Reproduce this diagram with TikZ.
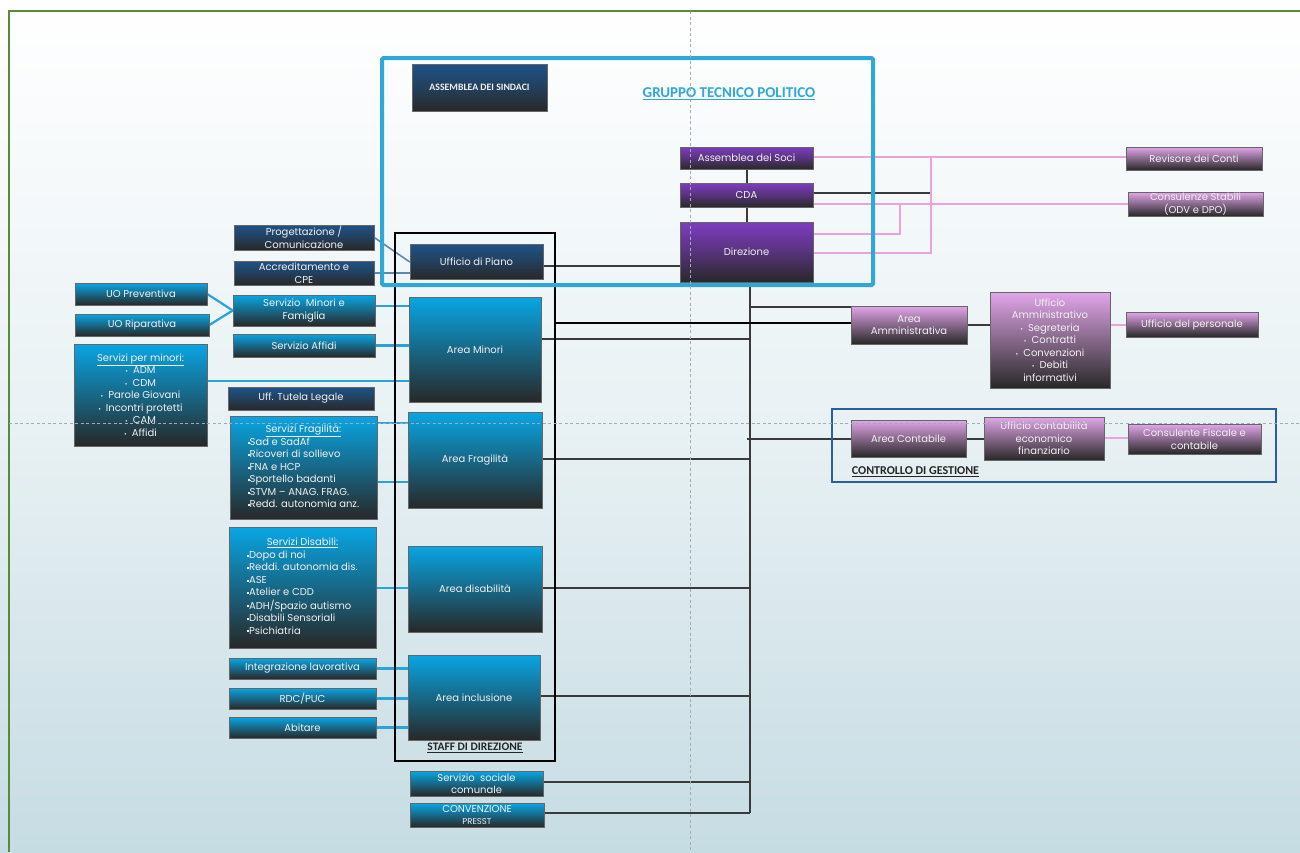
\documentclass[tikz,border=0pt]{standalone}
\usepackage{fontspec}
\setmainfont{Poppins}
\newfontfamily\titlefont{Carlito}
\usetikzlibrary{shadows}
\pgfdeclarelayer{back}
\pgfdeclarelayer{links}
\pgfsetlayers{back,links,main}
\definecolor{gframe}{HTML}{5A8A35}
\definecolor{bgbot}{HTML}{C6DCE3}
\definecolor{navytop}{HTML}{1F5287}
\definecolor{darkbot}{HTML}{282828}
\definecolor{cyantop}{HTML}{08A6E4}
\definecolor{purtop}{HTML}{7E3CC0}
\definecolor{pinktop}{HTML}{E2A6EA}
\definecolor{gtpblue}{HTML}{2FA8D8}
\definecolor{linkblue}{HTML}{27A4DA}
\definecolor{steel}{HTML}{5E88B0}
\definecolor{pinkline}{HTML}{E9A3DB}
\definecolor{cgblue}{HTML}{2C5E9C}
\definecolor{guide}{HTML}{A3ABB3}
\definecolor{conn}{HTML}{3A3A3A}
\newcommand{\sqb}{\raisebox{0.35ex}{\rule{1.8pt}{1.8pt}}}
\newcommand{\ubul}{{\fontsize{6.5}{6.5}\selectfont\textbullet}\hspace{5pt}}
\tikzset{
  box/.style={draw=black!60, line width=0.5pt, text=white!94!black, align=center, inner sep=1pt,
    font=\fontsize{10}{12.5}\selectfont,
    drop shadow={shadow xshift=1.4pt, shadow yshift=-1.4pt, opacity=0.35, fill=black}},
  navybox/.style={box, top color=navytop, bottom color=darkbot, middle color=navytop!55!darkbot},
  cyanbox/.style={box, top color=cyantop, bottom color=darkbot, middle color=cyantop!50!darkbot},
  purbox/.style={box, top color=purtop, bottom color=darkbot, middle color=purtop!55!darkbot},
  pinkbox/.style={box, top color=pinktop, bottom color=darkbot, middle color=pinktop!50!darkbot},
  blk/.style={draw=conn, line width=2pt},
  pnk/.style={draw=pinkline, line width=2pt},
  blu/.style={draw=linkblue, line width=2.2pt},
  stl/.style={draw=steel, line width=1.6pt},
  ttl/.style={font=\titlefont\bfseries, inner sep=0pt},
  guideline/.style={draw=guide, line width=0.8pt, dash pattern=on 3pt off 2.5pt}
}
\begin{document}
\begin{tikzpicture}[x=1pt,y=-1pt]
\path[use as bounding box] (0,0) rectangle (1300,852);
\begin{pgfonlayer}{back}
\fill[top color=white, bottom color=bgbot, middle color=white!60!bgbot] (0,0) rectangle (1300,852);
\draw[gframe, line width=2pt] (9,852) -- (9,11) -- (1300,11);
\end{pgfonlayer}

% top group
\node[navybox, minimum width=135pt, minimum height=47pt, font=\titlefont\bfseries\fontsize{9.8}{11}\selectfont] (sindaci) at (479.5,87.5) {ASSEMBLEA DEI SINDACI};
\node[purbox, minimum width=133pt, minimum height=22pt] (soci) at (746.5,158) {Assemblea dei Soci};
\node[purbox, minimum width=133pt, minimum height=24pt] (cda) at (746.5,195) {CDA};
\node[purbox, minimum width=133pt, minimum height=60pt] (direz) at (746.5,252) {Direzione};
\node[pinkbox, minimum width=136pt, minimum height=23pt] (revisore) at (1194,158.5) {Revisore dei Conti};
\node[pinkbox, minimum width=135pt, minimum height=24pt] (consul) at (1195.5,204) {Consulenze Stabili\\(ODV e DPO)};

% left side
\node[navybox, minimum width=133pt, minimum height=35pt] (uffpiano) at (476.5,261.5) {Ufficio di Piano};
\node[navybox, minimum width=140pt, minimum height=25pt] (progett) at (304,237.5) {Progettazione /\\Comunicazione};
\node[navybox, minimum width=140pt, minimum height=24pt] (accred) at (304,273) {Accreditamento e\\CPE};
\node[cyanbox, minimum width=132pt, minimum height=22pt] (uoprev) at (141,294) {UO Preventiva};
\node[cyanbox, minimum width=134pt, minimum height=22pt] (uorip) at (142,325) {UO Riparativa};
\node[cyanbox, minimum width=142pt, minimum height=31pt] (sminori) at (304,310.5) {Servizio\ \ Minori e\\Famiglia};
\node[cyanbox, minimum width=142pt, minimum height=23pt] (saffidi) at (304,345.5) {Servizio Affidi};
\node[cyanbox, minimum width=132pt, minimum height=105pt] (areaminori) at (475,349.5) {Area Minori};
\node[cyanbox, minimum width=133pt, minimum height=102pt] (spm) at (140.5,395) {\underline{Servizi per minori:}\\\ubul ADM\\\ubul CDM\\\ubul Parole Giovani\\\ubul Incontri protetti\\\ubul CAM\\\ubul Affidi};
\node[navybox, minimum width=146pt, minimum height=23pt] (tutela) at (301,398.5) {Uff. Tutela Legale};
\node[cyanbox, minimum width=147pt, minimum height=103pt] (sfrag) at (303.5,467.5) {\begin{tabular}{@{}l@{}}\multicolumn{1}{@{}c@{}}{\underline{Servizi Fragilità:}}\\\sqb Sad e SadAf\\\sqb Ricoveri di sollievo\\\sqb FNA e HCP\\\sqb Sportello badanti\\\sqb STVM – ANAG. FRAG.\\\sqb Redd. autonomia anz.\end{tabular}};
\node[cyanbox, minimum width=134pt, minimum height=96pt] (areafrag) at (475,460) {Area Fragilità};
\node[cyanbox, minimum width=147pt, minimum height=121pt] (sdis) at (302.5,587.5) {\begin{tabular}{@{}l@{}}\multicolumn{1}{@{}c@{}}{\underline{Servizi Disabili:}}\\\sqb Dopo di noi\\\sqb Reddi. autonomia dis.\\\sqb ASE\\\sqb Atelier e CDD\\\sqb ADH/Spazio autismo\\\sqb Disabili Sensoriali\\\sqb Psichiatria\end{tabular}};
\node[cyanbox, minimum width=134pt, minimum height=86pt] (areadis) at (475,589) {Area disabilità};
\node[cyanbox, minimum width=147pt, minimum height=21pt] (integr) at (302.5,668.5) {Integrazione lavorativa};
\node[cyanbox, minimum width=147pt, minimum height=21pt] (rdc) at (302.5,698.5) {RDC/PUC};
\node[cyanbox, minimum width=147pt, minimum height=21pt] (abitare) at (302.5,727.5) {Abitare};
\node[cyanbox, minimum width=132pt, minimum height=85pt] (areaincl) at (474,697.5) {Area inclusione};
\node[cyanbox, minimum width=133pt, minimum height=25pt] (sociale) at (476.5,783.5) {Servizio\ \ sociale\\comunale};
\node[cyanbox, minimum width=134pt, minimum height=24pt] (presst) at (477,815) {CONVENZIONE\\{\fontsize{8.5}{10}\selectfont PRESST}};

% staff box
\node[draw=black, line width=2pt, minimum width=160pt, minimum height=528pt, inner sep=0pt] (staff) at (474.5,497) {};
\node[ttl, font=\titlefont\bfseries\fontsize{11.5}{13}\selectfont, text=black!85] (stafftxt) at (475,748) {\underline{STAFF DI DIREZIONE}};

% right side
\node[pinkbox, minimum width=116pt, minimum height=38pt] (areaamm) at (909,325) {Area\\Amministrativa};
\node[pinkbox, minimum width=120pt, minimum height=96pt] (uffamm) at (1050,340) {Ufficio\\Amministrativo\\\ubul Segreteria\\\ubul Contratti\\\ubul Convenzioni\\\ubul Debiti\\informativi};
\node[pinkbox, minimum width=132pt, minimum height=25pt] (uffpers) at (1192,324.5) {Ufficio del personale};
\node[pinkbox, minimum width=115pt, minimum height=37pt] (areacont) at (908.5,438.5) {Area Contabile};
\node[pinkbox, minimum width=120pt, minimum height=43pt] (uffcont) at (1044,438.5) {Ufficio contabilità\\economico\\finanziario};
\node[pinkbox, minimum width=133pt, minimum height=30pt] (consfisc) at (1194.5,439) {Consulente Fiscale e\\contabile};
\node[draw=cgblue, line width=1.5pt, minimum width=444pt, minimum height=73pt, inner sep=0pt] (cg) at (1054,445.5) {};
\node[ttl, font=\titlefont\bfseries\fontsize{12}{14}\selectfont, text=black!85] (cgtxt) at (915.5,472) {\underline{CONTROLLO DI GESTIONE}};

% GTP box and title
\node[draw=gtpblue, line width=4pt, rounded corners=1.5pt, minimum width=491pt, minimum height=227pt, inner sep=0pt] (gtp) at (627.5,171.5) {};
\node[ttl, font=\titlefont\bfseries\fontsize{15}{17}\selectfont, text=gtpblue] (gtptxt) at (729,94) {\underline{GRUPPO TECNICO POLITICO}};

\coordinate (sptop) at (750,282);
\coordinate (spbot) at (750,813);

\begin{pgfonlayer}{links}
% top group connectors
\draw[blk] (soci.south) -- (cda.north);
\draw[blk] (cda.south) -- (direz.north);
\draw[blk] (cda.east |- 0,193) -- (931,193);
\draw[pnk] (soci.east |- 0,157) -- (revisore.west |- 0,157);
\draw[pnk] (direz.east |- 0,253) -- (931,253) -- (931,157);
\draw[pnk] (cda.east |- 0,204) -- (consul.west |- 0,204);
\draw[pnk] (direz.east |- 0,234) -- (900,234) -- (900,204);
% ufficio di piano
\draw[blk] (uffpiano.east |- 0,266) -- (direz.west |- 0,266);
\draw[stl] (progett.east) -- (uffpiano.west |- 0,262);
\draw[stl] (accred.east) -- (accred.east -| uffpiano.west);
% left links
\draw[blu] (uoprev.east) -- (sminori.west);
\draw[blu] (uorip.east) -- (sminori.west);
\draw[blu] (sminori.east |- 0,306) -- (areaminori.west |- 0,306);
\draw[blu] (saffidi.east) -- (saffidi.east -| areaminori.west);
\draw[blu] (spm.east |- 0,381) -- (areaminori.west |- 0,381);
\draw[blu] (sfrag.east |- 0,423) -- (areafrag.west |- 0,423);
\draw[blu] (sfrag.east |- 0,482) -- (areafrag.west |- 0,482);
\draw[blu] (sdis.east |- 0,588) -- (areadis.west |- 0,588);
\draw[blu] (integr.east) -- (integr.east -| areaincl.west);
\draw[blu] (rdc.east) -- (rdc.east -| areaincl.west);
\draw[blu] (abitare.east) -- (abitare.east -| areaincl.west);
% spine
\draw[blk] (sptop) -- (spbot);
\draw[blk] (750,307) -- (areaamm.west |- 0,307);
\draw[blk, draw=black] (staff.east |- 0,323) -- (areaamm.west |- 0,323);
\draw[blk] (areaminori.east |- 0,339) -- (750,339);
\draw[blk] (747,439) -- (areacont.west |- 0,439);
\draw[blk] (areafrag.east |- 0,459) -- (750,459);
\draw[blk] (areadis.east |- 0,588) -- (750,588);
\draw[blk] (areaincl.east |- 0,696) -- (750,696);
\draw[blk] (sociale.east |- 0,782) -- (750,782);
\draw[blk] (presst.east |- 0,813) -- (spbot);
% right
\draw[blk] (areaamm.east) -- (areaamm.east -| uffamm.west);
\draw[pnk] (uffamm.east |- uffpers.west) -- (uffpers.west);
\draw[blk] (areacont.east) -- (areacont.east -| uffcont.west);
\draw[pnk] (uffcont.east |- 0,438) -- (consfisc.west |- 0,438);
\end{pgfonlayer}

% guides on top
\draw[guideline] (690,11) -- (690,852);
\draw[guideline] (9,423) -- (1300,423);
\end{tikzpicture}
\end{document}
